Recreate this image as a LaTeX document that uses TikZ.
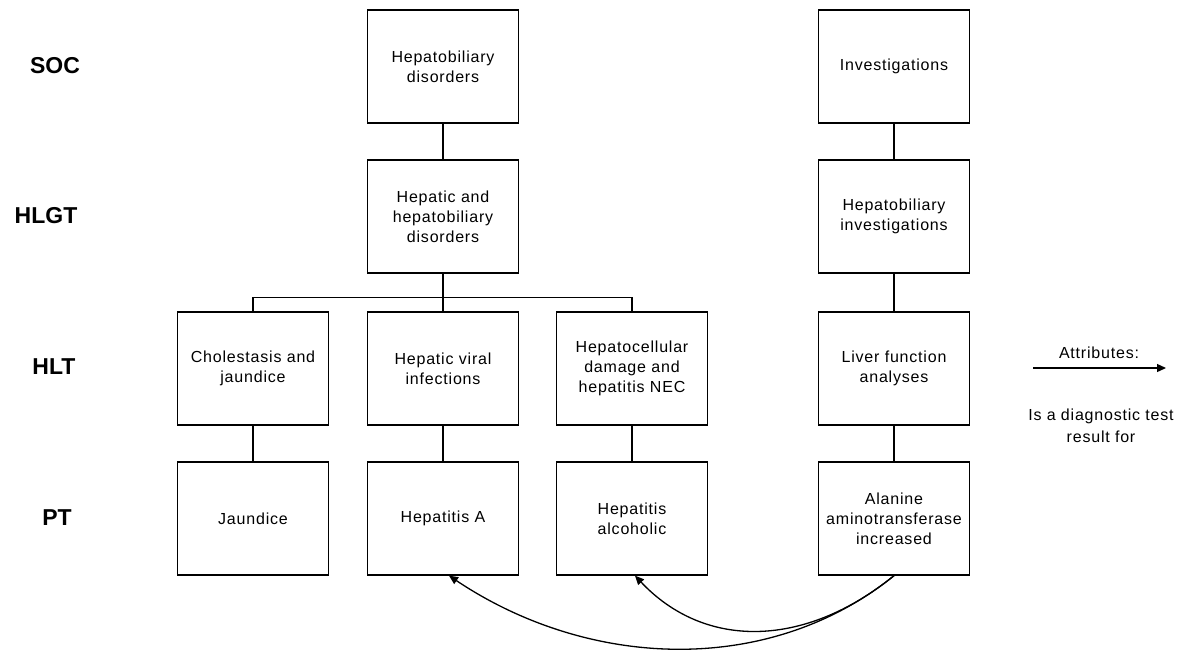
\documentclass[tikz,border=0pt]{standalone}
\usepackage{fontspec}
\setmainfont{Liberation Sans}
\newfontfamily\boxfont[LetterSpace=5]{Liberation Sans}
\usetikzlibrary{arrows.meta}

\begin{document}
\begin{tikzpicture}[x=1pt, y=-1pt,
            term/.style={draw, line width=1.3pt, minimum width=151pt, minimum height=113pt, inner sep=0pt, text width=148pt, align=center, font=\boxfont\fontsize{16}{20}\selectfont},
            level/.style={font=\bfseries\fontsize{23}{26}\selectfont},
            conn/.style={line width=1.3pt},
            tip/.style={-{Triangle[length=9pt,width=8pt]}},
            attr/.style={align=center, font=\boxfont\fontsize{16}{22}\selectfont}]
            \useasboundingbox (0,0) rectangle (1177,649);
            \node[level] (soc) at (55,66) {SOC};
            \node[level] (hlgt) at (46,216) {HLGT};
            \node[level] (hlt) at (54,367) {HLT};
            \node[level] (pt) at (57,518) {PT};
            \node[term] (hepbil) at (443,66.5) {Hepatobiliary\\disorders};
            \node[term] (invest) at (894,66.5) {Investigations};
            \node[term] (hephb) at (443,216.5) {Hepatic and\\hepatobiliary\\disorders};
            \node[term] (hbinv) at (894,216.5) {Hepatobiliary\\investigations};
            \node[term] (cholest) at (253,368.5) {Cholestasis and\\jaundice};
            \node[term] (hepvir) at (443,368.5) {Hepatic viral\\infections};
            \node[term] (hepcell) at (632,368.5) {Hepatocellular\\damage and\\hepatitis NEC};
            \node[term] (lft) at (894,368.5) {Liver function\\analyses};
            \node[term] (jaund) at (253,518.5) {Jaundice};
            \node[term] (hepa) at (443,518.5) {Hepatitis A};
            \node[term] (hepalc) at (632,518.5) {Hepatitis\\alcoholic};
            \node[term] (alt) at (894,518.5) {Alanine\\aminotransferase\\increased};
            \draw[conn] (hepbil) -- (hephb);
            \draw[conn] (hephb) -- (hepvir);
            \draw[conn] (cholest.north) -- ++(0,-14) -| (hepcell.north);
            \draw[conn] (cholest) -- (jaund);
            \draw[conn] (hepvir) -- (hepa);
            \draw[conn] (hepcell) -- (hepalc);
            \draw[conn] (invest) -- (hbinv);
            \draw[conn] (hbinv) -- (lft);
            \draw[conn] (lft) -- (alt);
            % links between the two axes
            \draw[conn, tip] (alt.south) .. controls (770,676) and (590,670) .. ([xshift=6pt]hepa.south);
            \draw[conn, tip] (alt.south) .. controls (805,648) and (705,650) .. ([xshift=3pt]hepalc.south);
            \coordinate (attrfrom) at (1033,368);
            \coordinate (attrto) at (1166,368);
            \draw[conn, tip] (attrfrom) -- (attrto);
            \node[attr] (attrname) at (1099,353) {Attributes:};
            \node[attr] (attrtext) at (1101,426) {Is a diagnostic test\\result for};
        \end{tikzpicture}
\end{document}
